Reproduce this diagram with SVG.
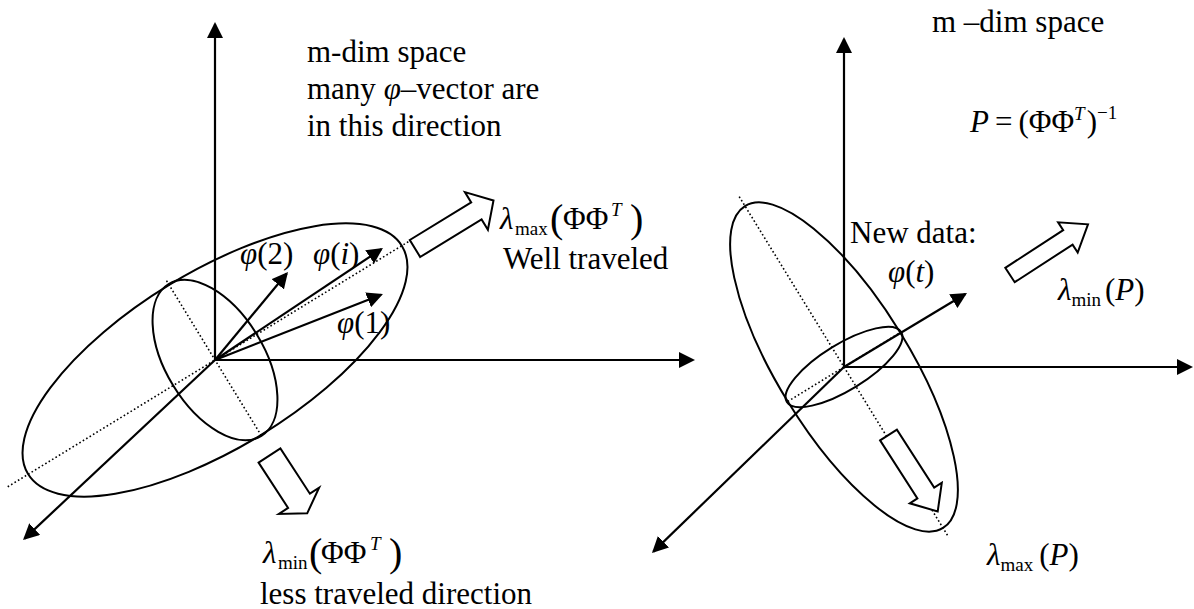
<svg xmlns="http://www.w3.org/2000/svg" width="1194" height="609" viewBox="0 0 1194 609">
<style>
text { font-family: "Liberation Serif", "Times New Roman", serif; font-size: 31px; fill: #000; }
.it { font-style: italic; }
.sub { font-size: 19px; }
.big { font-size: 40px; }
.ax { stroke: #000; stroke-width: 2.2; fill: none; }
.ell { stroke: #000; stroke-width: 2; fill: none; }
.dot { stroke: #000; stroke-width: 1.6; stroke-dasharray: 1.6 2.4; fill: none; }
.block { stroke: #000; stroke-width: 2; fill: #fff; stroke-linejoin: miter; }
</style>
<defs>
<marker id="ah" markerUnits="userSpaceOnUse" markerWidth="16" markerHeight="16" viewBox="0 0 16 16" refX="14" refY="8" orient="auto">
<path d="M0,0 L16,8 L0,16 Z" fill="#000"/>
</marker>
</defs>
<rect width="1194" height="609" fill="#fff"/>

<g id="left-dotted">
<line class="dot" x1="7.7" y1="486.8" x2="410.3" y2="240.5"/>
<line class="dot" x1="166.5" y1="280.7" x2="261.5" y2="435.9"/>
</g>
<g id="right-dotted">
<line class="dot" x1="739.2" y1="196.6" x2="948.8" y2="537.4"/>
<line class="dot" x1="787.7" y1="401.5" x2="902" y2="331.5"/>
</g>

<g id="left-ellipses">
<ellipse class="ell" cx="215" cy="360" rx="219" ry="88" transform="rotate(-31.4 215 360)"/>
<ellipse class="ell" cx="215" cy="360" rx="89" ry="49" transform="rotate(58.6 215 360)"/>
</g>
<g id="right-ellipses">
<ellipse class="ell" cx="844" cy="367" rx="189" ry="66" transform="rotate(58.4 844 367)"/>
<ellipse class="ell" cx="844" cy="367" rx="67" ry="23" transform="rotate(-31.5 844 367)"/>
</g>

<g id="connectors">
<line class="ax" x1="215" y1="360" x2="215" y2="24" marker-end="url(#ah)"/>
<line class="ax" x1="215" y1="360" x2="693" y2="360" marker-end="url(#ah)"/>
<line class="ax" x1="215" y1="360" x2="24.5" y2="538.6" marker-end="url(#ah)"/>
<line class="ax" x1="215" y1="360" x2="286.7" y2="273.5" marker-end="url(#ah)"/>
<line class="ax" x1="215" y1="360" x2="381.3" y2="249.1" marker-end="url(#ah)"/>
<line class="ax" x1="215" y1="360" x2="381.1" y2="294.7" marker-end="url(#ah)"/>
<line class="ax" x1="844" y1="367" x2="844" y2="39" marker-end="url(#ah)"/>
<line class="ax" x1="844" y1="367" x2="1191" y2="367" marker-end="url(#ah)"/>
<line class="ax" x1="844" y1="367" x2="653.4" y2="551.6" marker-end="url(#ah)"/>
<line class="ax" x1="844" y1="367" x2="965.3" y2="294" marker-end="url(#ah)"/>
</g>

<g id="arrow-lmax-left">
<polygon class="block" points="420.2,257 481.6,219.4 487.9,229.7 493.5,200.5 464.9,192.1 471.2,202.4 409.8,240"/>
</g>
<g id="arrow-lmin-left">
<polygon class="block" points="258.6,462.6 288.1,507.9 278.9,513.9 307.2,513.3 319.1,487.7 309.9,493.7 280.4,448.4"/>
</g>
<g id="arrow-lmin-right">
<polygon class="block" points="1014.7,282.2 1072.6,244.6 1077.7,252.5 1088,224.3 1058.1,222.3 1063.2,230.2 1005.3,267.8"/>
</g>
<g id="arrow-lmax-right">
<polygon class="block" points="880.1,440.4 917.4,498.4 909.8,503.3 937.7,511.5 941.8,482.7 934.2,487.6 896.9,429.6"/>
</g>

<g id="label-left-title">
<text x="307" y="62">m-dim space</text>
<text x="307" y="99">many <tspan class="it">φ</tspan>–vector are</text>
<text x="307" y="136">in this direction</text>
</g>
<g id="label-phi2"><text x="240" y="264"><tspan class="it">φ</tspan>(2)</text></g>
<g id="label-phii"><text x="313" y="264"><tspan class="it">φ</tspan>(<tspan class="it">i</tspan>)</text></g>
<g id="label-phi1"><text x="337" y="333"><tspan class="it">φ</tspan>(1)</text></g>
<g id="label-lmax-left">
<text y="229"><tspan class="it" x="500">λ</tspan><tspan class="sub" x="515" y="235">max</tspan><tspan class="big" x="550" y="232">(</tspan><tspan x="563" y="229">ΦΦ</tspan><tspan class="it sub" x="611" y="216">T</tspan><tspan class="big" x="630" y="232">)</tspan></text>
<text x="503" y="269">Well traveled</text>
</g>
<g id="label-lmin-left">
<text y="563"><tspan class="it" x="263">λ</tspan><tspan class="sub" x="278" y="569">min</tspan><tspan class="big" x="309" y="566">(</tspan><tspan x="321" y="563">ΦΦ</tspan><tspan class="it sub" x="370" y="550">T</tspan><tspan class="big" x="389" y="566">)</tspan></text>
<text x="260" y="604">less traveled direction</text>
</g>

<g id="label-right-title"><text x="932" y="32">m –dim space</text></g>
<g id="label-P"><text x="970" y="132"><tspan class="it">P</tspan><tspan dx="6">=</tspan><tspan dx="6">(</tspan>ΦΦ<tspan class="it sub" dy="-12">T</tspan><tspan dy="12" dx="2">)</tspan><tspan class="sub" dy="-13">−1</tspan></text></g>
<g id="label-newdata">
<text x="850" y="243">New data:</text>
<text x="888" y="282"><tspan class="it">φ</tspan>(<tspan class="it">t</tspan>)</text>
</g>
<g id="label-lmin-right"><text x="1058" y="300"><tspan class="it">λ</tspan><tspan class="sub" dy="6">min</tspan><tspan dy="-6" dx="4">(</tspan><tspan class="it">P</tspan>)</text></g>
<g id="label-lmax-right"><text x="987" y="565"><tspan class="it">λ</tspan><tspan class="sub" dy="6">max</tspan><tspan dy="-6" dx="6">(</tspan><tspan class="it">P</tspan>)</text></g>
</svg>
